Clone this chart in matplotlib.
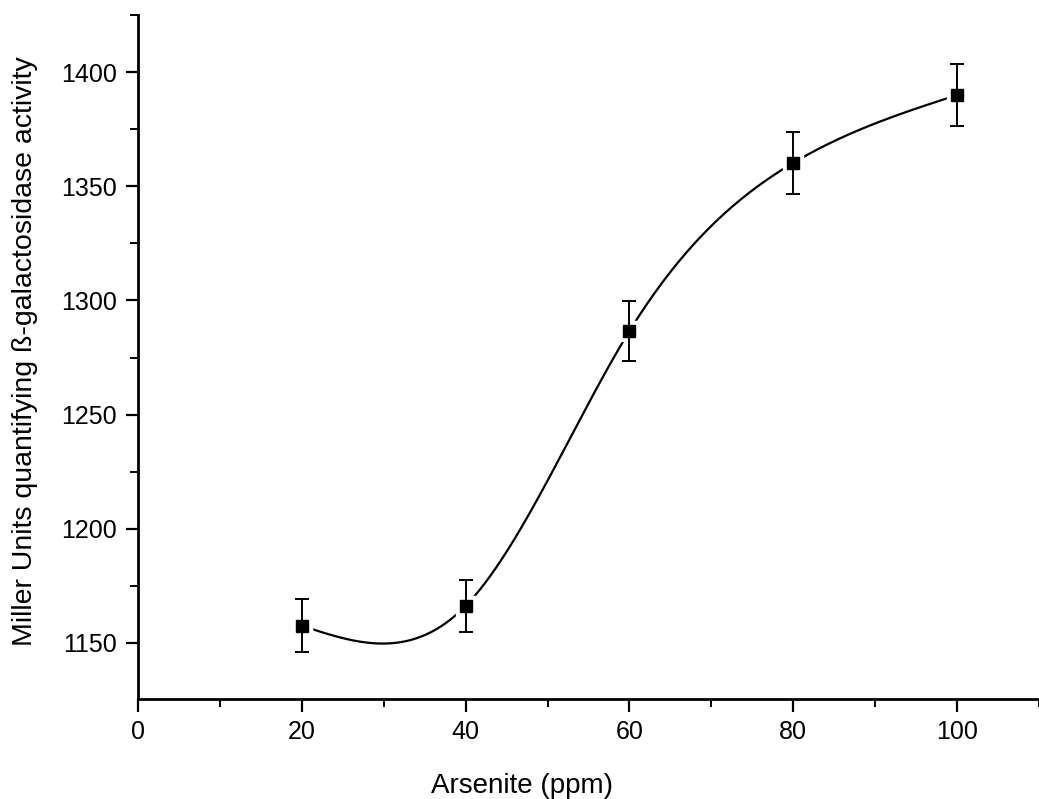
import numpy as np
import matplotlib
matplotlib.use('Agg')
import matplotlib.pyplot as plt
from matplotlib.ticker import MultipleLocator

# data
arsenite = [20, 40, 60, 80, 100]
miller = [1157.5, 1166.2, 1286.6, 1360.3, 1390.0]
miller_err = [11.5, 11.5, 13.0, 13.5, 13.7]

x_ticks = [0, 20, 40, 60, 80, 100]
y_ticks = [1150, 1200, 1250, 1300, 1350, 1400]


# natural cubic spline through the points (like Origin's spline line)
def natural_spline(x, y, xs):
    x = np.asarray(x, float)
    y = np.asarray(y, float)
    n = len(x)
    h = np.diff(x)
    A = np.zeros((n, n))
    b = np.zeros(n)
    A[0, 0] = 1
    A[-1, -1] = 1
    for i in range(1, n - 1):
        A[i, i - 1] = h[i - 1]
        A[i, i] = 2 * (h[i - 1] + h[i])
        A[i, i + 1] = h[i]
        b[i] = 6 * ((y[i + 1] - y[i]) / h[i] - (y[i] - y[i - 1]) / h[i - 1])
    M = np.linalg.solve(A, b)
    out = np.empty_like(xs)
    for k, t in enumerate(xs):
        i = min(np.searchsorted(x, t) - 1, n - 2)
        i = max(i, 0)
        a = x[i + 1] - t
        c = t - x[i]
        out[k] = (M[i] * a**3 + M[i + 1] * c**3) / (6 * h[i]) \
            + (y[i] / h[i] - M[i] * h[i] / 6) * a \
            + (y[i + 1] / h[i] - M[i + 1] * h[i] / 6) * c
    return out


plt.rcParams['font.family'] = ['Liberation Sans', 'DejaVu Sans']

fig = plt.figure(figsize=(10.39, 7.99), dpi=100)
ax = fig.add_axes([0.1328, 0.1252, 0.8672, 0.8558])

xs = np.linspace(arsenite[0], arsenite[-1], 400)
ax.plot(xs, natural_spline(arsenite, miller, xs), color='black', lw=1.6, zorder=1)
# white gap around the symbols
ax.plot(arsenite, miller, 's', ms=14, color='white', zorder=2)
ax.errorbar(arsenite, miller, yerr=miller_err, fmt='s', ms=9, color='black',
            ecolor='black', elinewidth=1.4, capsize=5, capthick=1.4, zorder=3)

ax.set_xlim(0, 110)
ax.set_ylim(1125.4, 1425)
ax.set_xticks(x_ticks)
ax.set_yticks(y_ticks)
ax.xaxis.set_minor_locator(MultipleLocator(10))
ax.yaxis.set_minor_locator(MultipleLocator(25))

for s in ['top', 'right']:
    ax.spines[s].set_visible(False)
for s in ['left', 'bottom']:
    ax.spines[s].set_linewidth(2)

ax.tick_params(which='major', direction='out', length=9, width=1.6, labelsize=18, pad=6)
ax.tick_params(which='minor', direction='out', length=6, width=1.4)

ax.set_xlabel('Arsenite (ppm)', fontsize=20)
ax.set_ylabel('Miller Units quantifying ß-galactosidase activity', fontsize=20.5)
ax.xaxis.set_label_coords(0.426, -0.108)
ax.yaxis.set_label_coords(-0.111, 0.509)

fig.savefig('out.png', dpi=100)
